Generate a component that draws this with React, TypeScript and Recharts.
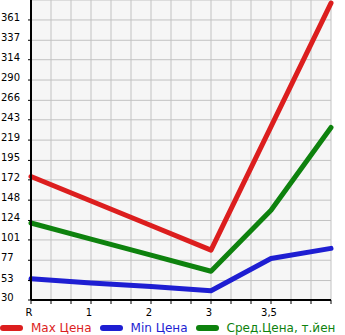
import { LineChart, Line, XAxis, YAxis, CartesianGrid } from 'recharts';

const categories = ['R', '1', '2', '3', '3,5', '4'];
const maxPrice = [176, 147, 118, 89, 235, 381];
const minPrice = [55, 50, 46, 41, 79, 91];
const avgPrice = [121, 102, 83, 64, 136, 234];
const yLabels = [30, 53, 77, 101, 124, 148, 172, 195, 219, 243, 266, 290, 314, 337, 361];

const series = [
  { key: 'max', name: 'Max Цена', color: '#dc1e1e' },
  { key: 'min', name: 'Min Цена', color: '#1e1ed2' },
  { key: 'avg', name: 'Сред.Цена, т.йен', color: '#0e820e' },
];

const data = categories.map((c, i) => ({
  i,
  label: c,
  max: maxPrice[i],
  min: minPrice[i],
  avg: avgPrice[i],
}));

// minor ticks every third of a category step
const xTicks: number[] = [];
for (let k = 0; k <= 15; k++) xTicks.push(k / 3);

const YTick = (props: any) => (
  <text x={1} y={props.y + 1} fontSize={10} fontFamily="DejaVu Sans" fill="#000">
    {props.payload.value}
  </text>
);

const XTick = (props: any) => {
  const v = props.payload.value;
  const r = Math.round(v);
  if (Math.abs(v - r) > 1e-6 || r >= categories.length - 1) return <g />;
  return (
    <text x={props.x - 2} y={316} fontSize={10} fontFamily="DejaVu Sans" fill="#000" textAnchor="middle">
      {categories[r]}
    </text>
  );
};

export default function App() {
  return (
    <div style={{ position: 'absolute', left: 0, top: 0, width: 345, height: 335, background: '#fff', overflow: 'hidden' }}>
      <LineChart width={345} height={335} data={data} margin={{ top: 0, right: 14, left: 0, bottom: 15 }}>
        <CartesianGrid stroke="#c2c2c2" fill="#f6f6f6" />
        <XAxis
          dataKey="i"
          type="number"
          domain={[0, 5]}
          ticks={xTicks}
          interval={0}
          height={20}
          tickSize={4}
          tickLine={{ stroke: '#000' }}
          axisLine={{ stroke: '#000', strokeWidth: 2 }}
          tick={<XTick />}
        />
        <YAxis
          type="number"
          domain={[30, 384.6]}
          ticks={yLabels}
          interval={0}
          width={31}
          tickSize={3}
          tickLine={{ stroke: '#000' }}
          axisLine={{ stroke: '#000', strokeWidth: 2 }}
          tick={<YTick />}
          allowDataOverflow
        />
        {series.map((s) => (
          <Line
            key={s.key}
            dataKey={s.key}
            name={s.name}
            stroke={s.color}
            strokeWidth={5}
            strokeLinecap="round"
            strokeLinejoin="round"
            dot={false}
            activeDot={false}
            isAnimationActive={false}
          />
        ))}
      </LineChart>
      <div
        style={{
          position: 'absolute',
          left: 0,
          top: 321,
          display: 'flex',
          alignItems: 'center',
          fontFamily: 'DejaVu Sans, sans-serif',
          fontSize: 12,
          whiteSpace: 'nowrap',
        }}
      >
        {series.map((s) => (
          <div key={s.key} style={{ display: 'flex', alignItems: 'center', marginRight: 8 }}>
            <span style={{ display: 'inline-block', width: 23, height: 6, borderRadius: 3, background: s.color, marginRight: 8 }} />
            <span style={{ color: s.color }}>{s.name}</span>
          </div>
        ))}
      </div>
    </div>
  );
}
